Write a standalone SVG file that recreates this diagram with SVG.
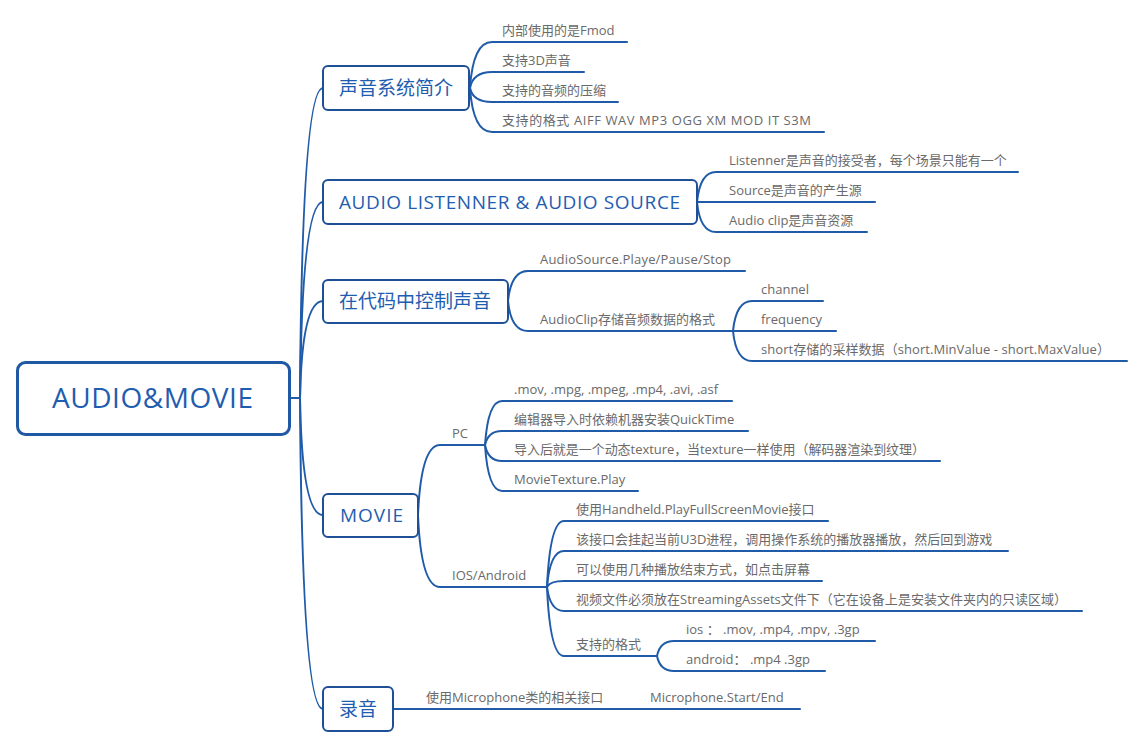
<svg xmlns="http://www.w3.org/2000/svg" width="1142" height="748" viewBox="0 0 1142 748">
<style>
.bg{fill:#ffffff}
.ln{fill:none;stroke:#1f5ba8;stroke-width:2;stroke-linecap:round}
.root{fill:#ffffff;stroke:#1f58a3;stroke-width:3}
.box{fill:#ffffff;stroke:#1f4f96;stroke-width:2}
.rt{font-family:"Open Sans","Noto Sans CJK SC",sans-serif;font-size:28px;fill:#1f5db0}
.bt{font-family:"Open Sans","Noto Sans CJK SC",sans-serif;font-size:19px;fill:#1f5db0}
.ct{font-family:"Open Sans","Noto Sans CJK SC",sans-serif;font-size:13px;fill:#6a6a6a}
</style>
<rect class="bg" x="0" y="0" width="1142" height="748"/>
<g id="connectors">
<path class="ln" d="M290 398 H300"/>
<path class="ln" d="M300 398 Q302 88 323 88"/>
<path class="ln" d="M300 398 Q302 202 323 202"/>
<path class="ln" d="M300 398 Q302 301 323 301"/>
<path class="ln" d="M300 398 Q302 515 323 515"/>
<path class="ln" d="M300 398 Q302 709 323 709"/>
<path class="ln" d="M470 88 Q473 42 492 42 H627"/>
<path class="ln" d="M470 88 Q473 72 492 72 H584"/>
<path class="ln" d="M470 88 Q473 102 492 102 H618"/>
<path class="ln" d="M470 88 Q473 132 492 132 H824"/>
<path class="ln" d="M697 202 Q700 172 716 172 H1018"/>
<path class="ln" d="M697 202 H875"/>
<path class="ln" d="M697 202 Q700 232 716 232 H867"/>
<path class="ln" d="M508 301 Q511 271 528 271 H745"/>
<path class="ln" d="M508 301 Q511 331 528 331 H733"/>
<path class="ln" d="M733 331 Q736 301 752 301 H823"/>
<path class="ln" d="M733 331 H836"/>
<path class="ln" d="M733 331 Q736 361 752 361 H1127"/>
<path class="ln" d="M418 515 Q421 445 440 445 H485"/>
<path class="ln" d="M418 515 Q421 587 440 587 H547"/>
<path class="ln" d="M485 445 Q488 401 502 401 H732"/>
<path class="ln" d="M485 445 Q488 431 502 431 H748"/>
<path class="ln" d="M485 445 Q488 461 502 461 H940"/>
<path class="ln" d="M485 445 Q488 491 502 491 H638"/>
<path class="ln" d="M547 587 Q550 521 564 521 H828"/>
<path class="ln" d="M547 587 Q550 551 564 551 H1008"/>
<path class="ln" d="M547 587 Q550 581 564 581 H822"/>
<path class="ln" d="M547 587 Q550 611 564 611 H1082"/>
<path class="ln" d="M547 587 Q550 656 564 656 H657"/>
<path class="ln" d="M657 656 Q660 641 674 641 H875"/>
<path class="ln" d="M657 656 Q660 671 674 671 H825"/>
<path class="ln" d="M393 709 H800"/>
</g>
<g id="root">
<rect class="root" x="17.5" y="362.5" width="272" height="72" rx="8"/>
<text class="rt" x="52" y="408" textLength="201">AUDIO&amp;MOVIE</text>
</g>
<g id="b1">
<rect class="box" x="323" y="66" width="146" height="44" rx="5"/>
<text class="bt" x="339" y="95">声音系统简介</text>
</g>
<g id="b2">
<rect class="box" x="323" y="180" width="374" height="44" rx="5"/>
<text class="bt" x="339" y="209" textLength="341">AUDIO LISTENNER &amp; AUDIO SOURCE</text>
</g>
<g id="b3">
<rect class="box" x="323" y="280" width="185" height="43" rx="5"/>
<text class="bt" x="339" y="308">在代码中控制声音</text>
</g>
<g id="b4">
<rect class="box" x="323" y="494" width="95" height="43" rx="5"/>
<text class="bt" x="340" y="522" textLength="63">MOVIE</text>
</g>
<g id="b5">
<rect class="box" x="323" y="687" width="70" height="44" rx="5"/>
<text class="bt" x="339" y="716">录音</text>
</g>
<g id="b1c">
<text class="ct" x="502" y="35">内部使用的是Fmod</text>
<text class="ct" x="502" y="65">支持3D声音</text>
<text class="ct" x="502" y="95">支持的音频的压缩</text>
<text class="ct" x="502" y="125" textLength="309">支持的格式 AIFF WAV MP3 OGG XM MOD IT S3M</text>
</g>
<g id="b2c">
<text class="ct" x="729" y="165">Listenner是声音的接受者，每个场景只能有一个</text>
<text class="ct" x="729" y="195">Source是声音的产生源</text>
<text class="ct" x="729" y="225">Audio clip是声音资源</text>
</g>
<g id="b3c">
<text class="ct" x="540" y="264" textLength="191">AudioSource.Playe/Pause/Stop</text>
<text class="ct" x="540" y="324">AudioClip存储音频数据的格式</text>
<text class="ct" x="761" y="294">channel</text>
<text class="ct" x="761" y="324">frequency</text>
<text class="ct" x="761" y="354" textLength="349">short存储的采样数据（short.MinValue - short.MaxValue）</text>
</g>
<g id="b4c">
<text class="ct" x="452" y="438">PC</text>
<text class="ct" x="452" y="580">IOS/Android</text>
<text class="ct" x="514" y="394">.mov, .mpg, .mpeg, .mp4, .avi, .asf</text>
<text class="ct" x="514" y="424">编辑器导入时依赖机器安装QuickTime</text>
<text class="ct" x="514" y="454" textLength="411">导入后就是一个动态texture，当texture一样使用（解码器渲染到纹理）</text>
<text class="ct" x="514" y="484">MovieTexture.Play</text>
<text class="ct" x="576" y="514">使用Handheld.PlayFullScreenMovie接口</text>
<text class="ct" x="576" y="544">该接口会挂起当前U3D进程，调用操作系统的播放器播放，然后回到游戏</text>
<text class="ct" x="576" y="574">可以使用几种播放结束方式，如点击屏幕</text>
<text class="ct" x="576" y="604" textLength="491">视频文件必须放在StreamingAssets文件下（它在设备上是安装文件夹内的只读区域）</text>
<text class="ct" x="576" y="649">支持的格式</text>
<text class="ct" x="686" y="634">ios ： .mov, .mp4, .mpv, .3gp</text>
<text class="ct" x="686" y="664">android： .mp4 .3gp</text>
</g>
<g id="b5c">
<text class="ct" x="426" y="702">使用Microphone类的相关接口</text>
<text class="ct" x="650" y="702">Microphone.Start/End</text>
</g>
</svg>
